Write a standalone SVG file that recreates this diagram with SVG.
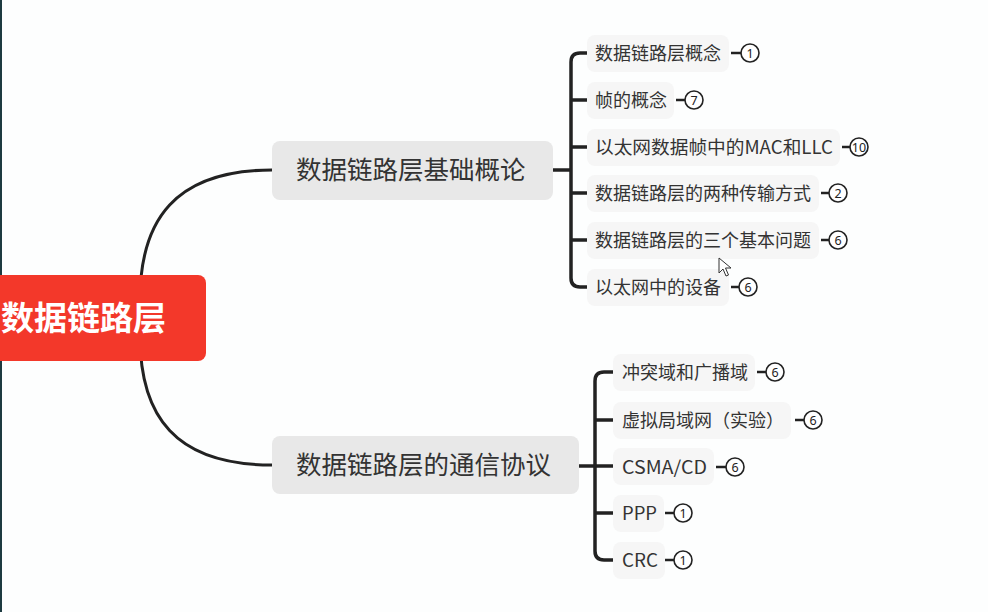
<svg xmlns="http://www.w3.org/2000/svg" width="988" height="612" viewBox="0 0 988 612">
<style>
.root-t{font-family:"Noto Sans CJK SC","Noto Sans",sans-serif;font-weight:700;font-size:33px;fill:#ffffff}
.br{fill:#e8e8e8}
.br-t{font-family:"Noto Sans CJK SC","Noto Sans",sans-serif;font-size:25.5px;fill:#333333}
.lf{fill:#f6f6f6}
.lf-t{font-family:"Noto Sans CJK SC","Noto Sans",sans-serif;font-size:18px;fill:#333333}
.conn{fill:none;stroke:#222222;stroke-width:3;stroke-linecap:round}
.brk{fill:none;stroke:#222222;stroke-width:3.5}
.bl{stroke:#222222;stroke-width:2.5}
.bc{fill:#ffffff;stroke:#222222;stroke-width:1.6}
.bn{font-family:"Noto Sans","DejaVu Sans",sans-serif;font-size:12.5px;fill:#222222;text-anchor:middle}
</style>
<rect x="0" y="0" width="988" height="612" fill="#fdfefe"/>
<rect x="0" y="0" width="2" height="612" fill="#1d3a40"/>
<g id="connectors">
<path class="conn" d="M140,300 C140,220 175,170 272,170"/>
<path class="conn" d="M140,336 C140,416 175,465 272,465"/>
<path class="brk" d="M553,170 H571"/>
<path class="brk" d="M588,53 H580 Q571,53 571,62 V278 Q571,287 580,287 H588"/>
<path class="brk" d="M571,100 H588 M571,147 H588 M571,193 H588 M571,240 H588"/>
<path class="brk" d="M579,466 H613"/>
<path class="brk" d="M613,372 H604 Q595,372 595,381 V551 Q595,560 604,560 H613"/>
<path class="brk" d="M595,420 H613 M595,513 H613"/>
</g>
<g id="root">
<rect x="-20" y="275" width="226" height="86" rx="8" fill="#f3382a"/>
<text class="root-t" x="1" y="330">数据链路层</text>
</g>
<g id="branch1">
<rect class="br" x="272" y="141" width="281" height="59" rx="8"/>
<text class="br-t" x="296" y="179">数据链路层基础概论</text>
</g>
<g id="branch2">
<rect class="br" x="272" y="436" width="307" height="58" rx="8"/>
<text class="br-t" x="296" y="474">数据链路层的通信协议</text>
</g>
<g id="leaf1">
<rect class="lf" x="587" y="35" width="142" height="37" rx="8"/>
<text class="lf-t" x="595" y="59.5">数据链路层概念</text>
<line class="bl" x1="731" y1="53" x2="741" y2="53"/>
<circle class="bc" cx="750" cy="53" r="9"/>
<text class="bn" x="750" y="57.5">1</text>
</g>
<g id="leaf2">
<rect class="lf" x="587" y="82" width="87" height="37" rx="8"/>
<text class="lf-t" x="595" y="106.5">帧的概念</text>
<line class="bl" x1="676" y1="100" x2="685" y2="100"/>
<circle class="bc" cx="694" cy="100" r="9"/>
<text class="bn" x="694" y="104.5">7</text>
</g>
<g id="leaf3">
<rect class="lf" x="587" y="129" width="253" height="37" rx="8"/>
<text class="lf-t" x="595" y="153.5" textLength="238" lengthAdjust="spacingAndGlyphs">以太网数据帧中的MAC和LLC</text>
<line class="bl" x1="842" y1="147" x2="850" y2="147"/>
<circle class="bc" cx="859" cy="147" r="9"/>
<text class="bn" x="859" y="151.5" font-size="11.5">10</text>
</g>
<g id="leaf4">
<rect class="lf" x="587" y="175" width="232" height="37" rx="8"/>
<text class="lf-t" x="595" y="199.5">数据链路层的两种传输方式</text>
<line class="bl" x1="821" y1="193" x2="829" y2="193"/>
<circle class="bc" cx="838" cy="193" r="9"/>
<text class="bn" x="838" y="197.5">2</text>
</g>
<g id="leaf5">
<rect class="lf" x="587" y="222" width="232" height="37" rx="8"/>
<text class="lf-t" x="595" y="246.5">数据链路层的三个基本问题</text>
<line class="bl" x1="821" y1="240" x2="829" y2="240"/>
<circle class="bc" cx="838" cy="240" r="9"/>
<text class="bn" x="838" y="244.5">6</text>
</g>
<g id="leaf6">
<rect class="lf" x="587" y="269" width="142" height="37" rx="8"/>
<text class="lf-t" x="595" y="293.5">以太网中的设备</text>
<line class="bl" x1="731" y1="287" x2="739" y2="287"/>
<circle class="bc" cx="748" cy="287" r="9"/>
<text class="bn" x="748" y="291.5">6</text>
</g>
<g id="leaf7">
<rect class="lf" x="613" y="354" width="142" height="37" rx="8"/>
<text class="lf-t" x="622" y="378.5">冲突域和广播域</text>
<line class="bl" x1="757" y1="372" x2="766" y2="372"/>
<circle class="bc" cx="775" cy="372" r="9"/>
<text class="bn" x="775" y="376.5">6</text>
</g>
<g id="leaf8">
<rect class="lf" x="613" y="402" width="178" height="37" rx="8"/>
<text class="lf-t" x="622" y="426.5">虚拟局域网（实验）</text>
<line class="bl" x1="795" y1="420" x2="804" y2="420"/>
<circle class="bc" cx="813" cy="420" r="9"/>
<text class="bn" x="813" y="424.5">6</text>
</g>
<g id="leaf9">
<rect class="lf" x="613" y="448" width="101" height="37" rx="8"/>
<text class="lf-t" x="622" y="473.5" textLength="85" lengthAdjust="spacingAndGlyphs">CSMA/CD</text>
<line class="bl" x1="716" y1="467" x2="726" y2="467"/>
<circle class="bc" cx="735" cy="467" r="9"/>
<text class="bn" x="735" y="471.5">6</text>
</g>
<g id="leaf10">
<rect class="lf" x="613" y="495" width="51" height="37" rx="8"/>
<text class="lf-t" x="622" y="519.5" textLength="35" lengthAdjust="spacingAndGlyphs">PPP</text>
<line class="bl" x1="665" y1="513" x2="674" y2="513"/>
<circle class="bc" cx="683" cy="513" r="9"/>
<text class="bn" x="683" y="517.5">1</text>
</g>
<g id="leaf11">
<rect class="lf" x="613" y="542" width="52" height="37" rx="8"/>
<text class="lf-t" x="622" y="566.5" textLength="36" lengthAdjust="spacingAndGlyphs">CRC</text>
<line class="bl" x1="665" y1="560" x2="674" y2="560"/>
<circle class="bc" cx="683" cy="560" r="9"/>
<text class="bn" x="683" y="564.5">1</text>
</g>
<path d="M719,258 L719,273 L723,269 L726,276 L728.5,275 L725.5,268 L731,268 Z" fill="#ffffff" stroke="#333333" stroke-width="1"/>
</svg>
